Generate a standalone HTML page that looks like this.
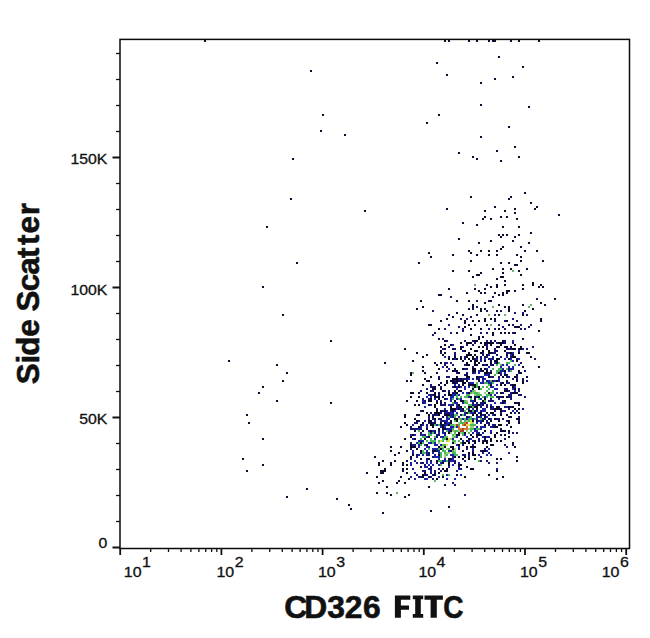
<!DOCTYPE html>
<html><head><meta charset="utf-8"><style>
html,body{margin:0;padding:0;background:#fff;}
svg{display:block;}
.t{font-family:"Liberation Sans",sans-serif;font-size:14px;fill:#111;stroke:#111;stroke-width:0.3px;}
.b{font-family:"Liberation Sans",sans-serif;font-size:30.5px;font-weight:bold;fill:#111;stroke:#111;stroke-width:0.6px;}
</style></head><body>
<svg width="650" height="638" viewBox="0 0 650 638">
<rect width="650" height="638" fill="#fff"/>
<path fill="#0c0c30" d="M204 40h2v2h-2zM444 40h2v2h-2zM448 40h2v2h-2zM468 40h2v2h-2zM476 40h2v2h-2zM488 40h2v2h-2zM492 40h2v2h-2zM494 40h2v2h-2zM510 40h2v2h-2zM518 40h2v2h-2zM538 40h2v2h-2zM498 56h2v2h-2zM436 62h2v2h-2zM522 66h2v2h-2zM310 70h2v2h-2zM446 74h2v2h-2zM512 76h2v2h-2zM494 78h2v2h-2zM480 82h2v2h-2zM480 104h2v2h-2zM528 106h2v2h-2zM322 114h2v2h-2zM438 114h2v2h-2zM426 122h2v2h-2zM508 126h2v2h-2zM320 130h2v2h-2zM344 134h2v2h-2zM480 136h2v2h-2zM514 146h2v2h-2zM496 150h2v2h-2zM458 152h2v2h-2zM472 156h2v2h-2zM518 156h2v2h-2zM292 158h2v2h-2zM476 158h2v2h-2zM500 160h2v2h-2zM524 192h2v2h-2zM470 196h2v2h-2zM510 196h2v2h-2zM290 198h2v2h-2zM508 198h2v2h-2zM530 202h2v2h-2zM494 206h2v2h-2zM536 206h2v2h-2zM446 208h2v2h-2zM514 208h2v2h-2zM534 208h2v2h-2zM364 210h2v2h-2zM484 210h2v2h-2zM504 210h2v2h-2zM514 212h2v2h-2zM558 214h2v2h-2zM484 216h2v2h-2zM500 216h2v2h-2zM506 216h2v2h-2zM482 218h2v2h-2zM490 218h2v2h-2zM516 218h2v2h-2zM462 222h2v2h-2zM476 224h2v2h-2zM266 226h2v2h-2zM502 226h2v2h-2zM518 226h2v2h-2zM530 232h2v2h-2zM498 234h2v2h-2zM502 234h2v2h-2zM506 234h2v2h-2zM518 234h2v2h-2zM500 236h2v2h-2zM514 236h2v2h-2zM458 238h2v2h-2zM490 240h2v2h-2zM512 240h2v2h-2zM478 242h2v2h-2zM528 242h2v2h-2zM502 246h2v2h-2zM520 246h2v2h-2zM500 248h2v2h-2zM468 250h2v2h-2zM480 250h2v2h-2zM488 250h2v2h-2zM496 250h2v2h-2zM524 250h2v2h-2zM536 250h2v2h-2zM428 252h2v2h-2zM470 252h2v2h-2zM452 254h2v2h-2zM476 254h2v2h-2zM488 254h2v2h-2zM496 254h2v2h-2zM516 254h2v2h-2zM430 256h2v2h-2zM520 256h2v2h-2zM470 260h2v2h-2zM520 260h2v2h-2zM542 260h2v2h-2zM296 262h2v2h-2zM418 262h2v2h-2zM500 262h2v2h-2zM508 262h2v2h-2zM514 264h2v2h-2zM516 264h2v2h-2zM492 268h2v2h-2zM502 268h2v2h-2zM510 268h2v2h-2zM526 268h2v2h-2zM452 270h2v2h-2zM468 270h2v2h-2zM518 270h2v2h-2zM480 272h2v2h-2zM502 272h2v2h-2zM476 274h2v2h-2zM478 274h2v2h-2zM520 274h2v2h-2zM472 276h2v2h-2zM500 276h2v2h-2zM502 276h2v2h-2zM496 278h2v2h-2zM504 280h2v2h-2zM532 282h2v2h-2zM486 284h2v2h-2zM496 284h2v2h-2zM504 284h2v2h-2zM522 284h2v2h-2zM532 284h2v2h-2zM540 284h2v2h-2zM262 286h2v2h-2zM490 286h2v2h-2zM496 286h2v2h-2zM538 286h2v2h-2zM542 286h2v2h-2zM448 288h2v2h-2zM474 288h2v2h-2zM484 288h2v2h-2zM522 288h2v2h-2zM478 290h2v2h-2zM506 290h2v2h-2zM508 290h2v2h-2zM514 290h2v2h-2zM466 292h2v2h-2zM480 292h2v2h-2zM484 292h2v2h-2zM494 292h2v2h-2zM502 292h2v2h-2zM506 292h2v2h-2zM438 294h2v2h-2zM440 294h2v2h-2zM498 294h2v2h-2zM502 294h2v2h-2zM554 298h2v2h-2zM420 300h2v2h-2zM456 300h2v2h-2zM468 300h2v2h-2zM490 300h2v2h-2zM484 302h2v2h-2zM540 302h2v2h-2zM472 304h2v2h-2zM498 304h2v2h-2zM522 304h2v2h-2zM544 304h2v2h-2zM422 306h2v2h-2zM472 306h2v2h-2zM504 306h2v2h-2zM508 306h2v2h-2zM416 308h2v2h-2zM468 308h2v2h-2zM480 308h2v2h-2zM484 308h2v2h-2zM508 308h2v2h-2zM532 308h2v2h-2zM480 310h2v2h-2zM496 310h2v2h-2zM508 310h2v2h-2zM524 310h2v2h-2zM456 312h2v2h-2zM282 314h2v2h-2zM462 314h2v2h-2zM476 314h2v2h-2zM498 314h2v2h-2zM522 314h2v2h-2zM452 316h2v2h-2zM446 318h2v2h-2zM484 318h2v2h-2zM490 318h2v2h-2zM494 318h2v2h-2zM540 318h2v2h-2zM440 320h2v2h-2zM464 320h2v2h-2zM472 320h2v2h-2zM478 320h2v2h-2zM484 320h2v2h-2zM506 320h2v2h-2zM540 320h2v2h-2zM464 322h2v2h-2zM428 324h2v2h-2zM430 324h2v2h-2zM468 324h2v2h-2zM474 324h2v2h-2zM486 324h2v2h-2zM508 324h2v2h-2zM464 326h2v2h-2zM514 326h2v2h-2zM516 326h2v2h-2zM518 326h2v2h-2zM438 328h2v2h-2zM470 328h2v2h-2zM480 328h2v2h-2zM498 328h2v2h-2zM538 330h2v2h-2zM434 332h2v2h-2zM456 332h2v2h-2zM492 332h2v2h-2zM500 332h2v2h-2zM504 332h2v2h-2zM508 332h2v2h-2zM514 332h2v2h-2zM470 334h2v2h-2zM492 334h2v2h-2zM478 336h2v2h-2zM482 336h2v2h-2zM438 338h2v2h-2zM478 338h2v2h-2zM522 338h2v2h-2zM330 340h2v2h-2zM520 346h2v2h-2zM404 348h2v2h-2zM520 348h2v2h-2zM416 352h2v2h-2zM526 352h2v2h-2zM528 352h2v2h-2zM426 354h2v2h-2zM422 356h2v2h-2zM530 356h2v2h-2zM228 360h2v2h-2zM412 360h2v2h-2zM384 362h2v2h-2zM434 362h2v2h-2zM276 364h2v2h-2zM436 364h2v2h-2zM422 366h2v2h-2zM522 366h2v2h-2zM538 366h2v2h-2zM438 368h2v2h-2zM422 370h2v2h-2zM286 372h2v2h-2zM410 372h2v2h-2zM424 372h2v2h-2zM436 372h2v2h-2zM520 372h2v2h-2zM410 374h2v2h-2zM430 376h2v2h-2zM526 376h2v2h-2zM424 378h2v2h-2zM438 378h2v2h-2zM282 380h2v2h-2zM406 380h2v2h-2zM410 380h2v2h-2zM522 380h2v2h-2zM522 382h2v2h-2zM262 386h2v2h-2zM258 392h2v2h-2zM410 392h2v2h-2zM412 392h2v2h-2zM418 392h2v2h-2zM410 396h2v2h-2zM418 396h2v2h-2zM276 400h2v2h-2zM406 400h2v2h-2zM416 400h2v2h-2zM330 402h2v2h-2zM414 404h2v2h-2zM418 404h2v2h-2zM246 414h2v2h-2zM404 414h2v2h-2zM416 414h2v2h-2zM418 414h2v2h-2zM404 416h2v2h-2zM414 418h2v2h-2zM248 422h2v2h-2zM404 422h2v2h-2zM406 424h2v2h-2zM400 426h2v2h-2zM262 438h2v2h-2zM404 438h2v2h-2zM390 446h2v2h-2zM400 446h2v2h-2zM390 450h2v2h-2zM406 450h2v2h-2zM398 452h2v2h-2zM394 454h2v2h-2zM374 456h2v2h-2zM242 458h2v2h-2zM382 460h2v2h-2zM394 460h2v2h-2zM406 460h2v2h-2zM378 462h2v2h-2zM390 462h2v2h-2zM402 462h2v2h-2zM262 464h2v2h-2zM378 464h2v2h-2zM390 464h2v2h-2zM402 464h2v2h-2zM406 464h2v2h-2zM384 468h2v2h-2zM402 468h2v2h-2zM406 468h2v2h-2zM246 470h2v2h-2zM380 470h2v2h-2zM382 470h2v2h-2zM384 470h2v2h-2zM402 470h2v2h-2zM366 472h2v2h-2zM380 472h2v2h-2zM382 472h2v2h-2zM406 472h2v2h-2zM376 476h2v2h-2zM400 476h2v2h-2zM408 478h2v2h-2zM382 480h2v2h-2zM398 480h2v2h-2zM378 482h2v2h-2zM396 482h2v2h-2zM404 482h2v2h-2zM444 484h2v2h-2zM386 486h2v2h-2zM428 486h2v2h-2zM306 488h2v2h-2zM376 492h2v2h-2zM386 492h2v2h-2zM390 494h2v2h-2zM408 494h2v2h-2zM286 496h2v2h-2zM404 496h2v2h-2zM336 498h2v2h-2zM348 504h2v2h-2zM448 506h2v2h-2zM350 508h2v2h-2zM430 510h2v2h-2zM382 512h2v2h-2z"/>
<path fill="#161672" d="M450 296h2v2h-2zM492 296h2v2h-2zM536 298h2v2h-2zM476 300h2v2h-2zM488 300h2v2h-2zM476 306h2v2h-2zM472 308h2v2h-2zM432 310h2v2h-2zM486 310h2v2h-2zM500 310h2v2h-2zM514 312h2v2h-2zM522 312h2v2h-2zM448 314h2v2h-2zM494 314h2v2h-2zM526 314h2v2h-2zM470 316h2v2h-2zM460 318h2v2h-2zM466 318h2v2h-2zM512 318h2v2h-2zM494 320h2v2h-2zM504 320h2v2h-2zM516 320h2v2h-2zM448 324h2v2h-2zM498 324h2v2h-2zM512 324h2v2h-2zM520 324h2v2h-2zM530 324h2v2h-2zM458 326h2v2h-2zM502 326h2v2h-2zM528 326h2v2h-2zM444 328h2v2h-2zM462 328h2v2h-2zM488 328h2v2h-2zM494 328h2v2h-2zM504 328h2v2h-2zM520 328h2v2h-2zM524 328h2v2h-2zM462 330h2v2h-2zM450 332h2v2h-2zM480 332h2v2h-2zM486 332h2v2h-2zM512 332h2v2h-2zM432 334h2v2h-2zM442 338h2v2h-2zM446 340h2v2h-2zM464 340h2v2h-2zM472 340h2v2h-2zM486 340h2v2h-2zM490 340h2v2h-2zM494 340h2v2h-2zM504 340h2v2h-2zM474 342h2v2h-2zM496 342h2v2h-2zM504 342h2v2h-2zM512 342h2v2h-2zM466 344h2v2h-2zM472 344h2v2h-2zM486 344h2v2h-2zM448 346h2v2h-2zM462 346h2v2h-2zM486 346h2v2h-2zM532 346h2v2h-2zM442 348h2v2h-2zM444 348h2v2h-2zM454 348h2v2h-2zM494 348h2v2h-2zM506 348h2v2h-2zM508 348h2v2h-2zM510 348h2v2h-2zM522 348h2v2h-2zM526 348h2v2h-2zM462 350h2v2h-2zM494 350h2v2h-2zM496 350h2v2h-2zM440 352h2v2h-2zM454 352h2v2h-2zM482 352h2v2h-2zM492 352h2v2h-2zM494 352h2v2h-2zM506 352h2v2h-2zM508 352h2v2h-2zM454 354h2v2h-2zM482 354h2v2h-2zM496 354h2v2h-2zM448 356h2v2h-2zM460 356h2v2h-2zM464 356h2v2h-2zM480 356h2v2h-2zM484 356h2v2h-2zM486 356h2v2h-2zM500 356h2v2h-2zM510 356h2v2h-2zM464 358h2v2h-2zM474 358h2v2h-2zM480 358h2v2h-2zM488 358h2v2h-2zM492 358h2v2h-2zM516 358h2v2h-2zM534 358h2v2h-2zM444 362h2v2h-2zM520 362h2v2h-2zM444 364h2v2h-2zM452 364h2v2h-2zM464 364h2v2h-2zM490 364h2v2h-2zM472 366h2v2h-2zM464 368h2v2h-2zM466 368h2v2h-2zM508 368h2v2h-2zM446 370h2v2h-2zM454 370h2v2h-2zM480 370h2v2h-2zM524 370h2v2h-2zM456 372h2v2h-2zM466 372h2v2h-2zM472 372h2v2h-2zM488 372h2v2h-2zM518 372h2v2h-2zM464 374h2v2h-2zM488 374h2v2h-2zM500 374h2v2h-2zM506 374h2v2h-2zM438 376h2v2h-2zM446 376h2v2h-2zM448 376h2v2h-2zM478 376h2v2h-2zM480 376h2v2h-2zM490 376h2v2h-2zM492 376h2v2h-2zM498 376h2v2h-2zM506 376h2v2h-2zM508 376h2v2h-2zM516 376h2v2h-2zM458 378h2v2h-2zM462 378h2v2h-2zM464 378h2v2h-2zM466 378h2v2h-2zM476 378h2v2h-2zM478 378h2v2h-2zM482 378h2v2h-2zM512 378h2v2h-2zM516 378h2v2h-2zM522 378h2v2h-2zM426 380h2v2h-2zM454 380h2v2h-2zM458 380h2v2h-2zM486 380h2v2h-2zM492 380h2v2h-2zM526 380h2v2h-2zM456 382h2v2h-2zM468 382h2v2h-2zM500 382h2v2h-2zM506 382h2v2h-2zM508 382h2v2h-2zM430 384h2v2h-2zM458 384h2v2h-2zM510 384h2v2h-2zM430 386h2v2h-2zM432 386h2v2h-2zM440 386h2v2h-2zM452 386h2v2h-2zM426 388h2v2h-2zM504 388h2v2h-2zM506 388h2v2h-2zM518 388h2v2h-2zM420 390h2v2h-2zM430 390h2v2h-2zM432 390h2v2h-2zM444 390h2v2h-2zM448 390h2v2h-2zM508 390h2v2h-2zM518 390h2v2h-2zM438 392h2v2h-2zM452 392h2v2h-2zM454 392h2v2h-2zM502 392h2v2h-2zM510 392h2v2h-2zM430 394h2v2h-2zM432 394h2v2h-2zM438 394h2v2h-2zM444 394h2v2h-2zM508 394h2v2h-2zM510 394h2v2h-2zM518 394h2v2h-2zM520 394h2v2h-2zM436 396h2v2h-2zM442 396h2v2h-2zM496 396h2v2h-2zM500 396h2v2h-2zM508 396h2v2h-2zM510 396h2v2h-2zM524 396h2v2h-2zM422 398h2v2h-2zM428 398h2v2h-2zM490 398h2v2h-2zM498 398h2v2h-2zM510 398h2v2h-2zM424 400h2v2h-2zM436 400h2v2h-2zM440 400h2v2h-2zM488 400h2v2h-2zM490 400h2v2h-2zM492 400h2v2h-2zM502 400h2v2h-2zM422 402h2v2h-2zM444 402h2v2h-2zM472 402h2v2h-2zM480 402h2v2h-2zM482 402h2v2h-2zM516 402h2v2h-2zM440 404h2v2h-2zM442 404h2v2h-2zM444 404h2v2h-2zM452 404h2v2h-2zM472 404h2v2h-2zM476 404h2v2h-2zM482 404h2v2h-2zM486 404h2v2h-2zM456 406h2v2h-2zM458 406h2v2h-2zM480 406h2v2h-2zM486 406h2v2h-2zM504 406h2v2h-2zM510 406h2v2h-2zM436 408h2v2h-2zM490 408h2v2h-2zM492 408h2v2h-2zM508 408h2v2h-2zM522 408h2v2h-2zM420 410h2v2h-2zM442 410h2v2h-2zM450 410h2v2h-2zM460 410h2v2h-2zM462 410h2v2h-2zM480 410h2v2h-2zM494 410h2v2h-2zM504 410h2v2h-2zM516 410h2v2h-2zM430 412h2v2h-2zM440 412h2v2h-2zM444 412h2v2h-2zM446 412h2v2h-2zM448 412h2v2h-2zM500 412h2v2h-2zM514 412h2v2h-2zM432 414h2v2h-2zM434 414h2v2h-2zM436 414h2v2h-2zM452 414h2v2h-2zM460 414h2v2h-2zM428 416h2v2h-2zM452 416h2v2h-2zM478 416h2v2h-2zM508 416h2v2h-2zM518 416h2v2h-2zM428 418h2v2h-2zM432 418h2v2h-2zM438 418h2v2h-2zM440 418h2v2h-2zM482 418h2v2h-2zM484 418h2v2h-2zM496 418h2v2h-2zM498 418h2v2h-2zM502 418h2v2h-2zM418 420h2v2h-2zM442 420h2v2h-2zM486 420h2v2h-2zM506 420h2v2h-2zM518 420h2v2h-2zM414 422h2v2h-2zM416 422h2v2h-2zM428 422h2v2h-2zM432 422h2v2h-2zM480 422h2v2h-2zM486 422h2v2h-2zM488 422h2v2h-2zM426 424h2v2h-2zM440 424h2v2h-2zM488 424h2v2h-2zM492 424h2v2h-2zM494 424h2v2h-2zM506 424h2v2h-2zM410 426h2v2h-2zM484 426h2v2h-2zM492 426h2v2h-2zM410 428h2v2h-2zM412 428h2v2h-2zM414 428h2v2h-2zM416 428h2v2h-2zM420 428h2v2h-2zM500 428h2v2h-2zM434 430h2v2h-2zM438 430h2v2h-2zM420 432h2v2h-2zM434 432h2v2h-2zM444 432h2v2h-2zM478 432h2v2h-2zM490 432h2v2h-2zM508 432h2v2h-2zM512 432h2v2h-2zM516 432h2v2h-2zM424 434h2v2h-2zM436 434h2v2h-2zM438 434h2v2h-2zM480 434h2v2h-2zM500 434h2v2h-2zM436 436h2v2h-2zM476 436h2v2h-2zM488 436h2v2h-2zM478 438h2v2h-2zM484 438h2v2h-2zM504 438h2v2h-2zM472 440h2v2h-2zM478 440h2v2h-2zM482 440h2v2h-2zM410 442h2v2h-2zM414 444h2v2h-2zM462 444h2v2h-2zM472 444h2v2h-2zM504 444h2v2h-2zM512 444h2v2h-2zM506 446h2v2h-2zM410 448h2v2h-2zM458 448h2v2h-2zM466 448h2v2h-2zM484 448h2v2h-2zM436 450h2v2h-2zM472 450h2v2h-2zM480 450h2v2h-2zM420 452h2v2h-2zM428 452h2v2h-2zM482 452h2v2h-2zM488 452h2v2h-2zM416 454h2v2h-2zM426 454h2v2h-2zM428 454h2v2h-2zM462 454h2v2h-2zM464 454h2v2h-2zM468 454h2v2h-2zM416 456h2v2h-2zM432 456h2v2h-2zM468 456h2v2h-2zM480 456h2v2h-2zM410 458h2v2h-2zM426 458h2v2h-2zM430 460h2v2h-2zM448 460h2v2h-2zM454 460h2v2h-2zM464 460h2v2h-2zM480 460h2v2h-2zM486 460h2v2h-2zM416 462h2v2h-2zM420 462h2v2h-2zM422 462h2v2h-2zM436 462h2v2h-2zM454 462h2v2h-2zM488 462h2v2h-2zM496 462h2v2h-2zM424 464h2v2h-2zM430 466h2v2h-2zM458 466h2v2h-2zM428 468h2v2h-2zM430 468h2v2h-2zM438 468h2v2h-2zM460 468h2v2h-2zM422 470h2v2h-2zM424 470h2v2h-2zM434 470h2v2h-2zM440 470h2v2h-2zM456 470h2v2h-2zM430 472h2v2h-2zM434 472h2v2h-2zM416 474h2v2h-2zM424 474h2v2h-2zM426 474h2v2h-2zM432 474h2v2h-2zM418 476h2v2h-2zM420 476h2v2h-2zM430 476h2v2h-2zM432 478h2v2h-2zM452 482h2v2h-2zM454 484h2v2h-2zM464 494h2v2h-2z"/>
<path fill="#70b070" d="M512 270h2v2h-2zM474 284h2v2h-2zM530 304h2v2h-2zM492 306h2v2h-2zM528 306h2v2h-2zM488 314h2v2h-2zM504 314h2v2h-2zM490 324h2v2h-2zM412 372h2v2h-2zM434 480h2v2h-2zM396 492h2v2h-2z"/>
<path fill="#1c22a8" d="M512 340h2v2h-2zM452 344h2v2h-2zM518 350h2v2h-2zM512 352h2v2h-2zM488 354h2v2h-2zM510 354h2v2h-2zM444 356h2v2h-2zM492 356h2v2h-2zM506 356h2v2h-2zM454 358h2v2h-2zM476 358h2v2h-2zM484 358h2v2h-2zM490 358h2v2h-2zM504 358h2v2h-2zM510 358h2v2h-2zM518 358h2v2h-2zM480 360h2v2h-2zM512 360h2v2h-2zM446 362h2v2h-2zM450 362h2v2h-2zM494 362h2v2h-2zM484 364h2v2h-2zM502 364h2v2h-2zM506 364h2v2h-2zM518 364h2v2h-2zM442 366h2v2h-2zM488 366h2v2h-2zM500 366h2v2h-2zM508 366h2v2h-2zM512 366h2v2h-2zM448 368h2v2h-2zM486 368h2v2h-2zM502 368h2v2h-2zM510 368h2v2h-2zM512 368h2v2h-2zM478 370h2v2h-2zM490 370h2v2h-2zM500 370h2v2h-2zM502 370h2v2h-2zM508 370h2v2h-2zM474 372h2v2h-2zM478 372h2v2h-2zM500 372h2v2h-2zM504 372h2v2h-2zM484 374h2v2h-2zM486 374h2v2h-2zM482 376h2v2h-2zM468 378h2v2h-2zM472 378h2v2h-2zM484 378h2v2h-2zM498 378h2v2h-2zM482 380h2v2h-2zM488 380h2v2h-2zM494 380h2v2h-2zM498 380h2v2h-2zM470 382h2v2h-2zM472 382h2v2h-2zM480 382h2v2h-2zM482 382h2v2h-2zM488 382h2v2h-2zM490 382h2v2h-2zM454 384h2v2h-2zM496 384h2v2h-2zM456 386h2v2h-2zM460 386h2v2h-2zM464 386h2v2h-2zM468 386h2v2h-2zM490 386h2v2h-2zM492 386h2v2h-2zM514 386h2v2h-2zM456 388h2v2h-2zM464 388h2v2h-2zM494 388h2v2h-2zM496 388h2v2h-2zM512 388h2v2h-2zM470 390h2v2h-2zM514 390h2v2h-2zM462 392h2v2h-2zM466 392h2v2h-2zM496 392h2v2h-2zM428 394h2v2h-2zM452 394h2v2h-2zM454 394h2v2h-2zM458 394h2v2h-2zM490 394h2v2h-2zM494 394h2v2h-2zM426 396h2v2h-2zM430 396h2v2h-2zM450 396h2v2h-2zM452 396h2v2h-2zM468 396h2v2h-2zM476 396h2v2h-2zM484 396h2v2h-2zM434 398h2v2h-2zM446 398h2v2h-2zM450 398h2v2h-2zM456 398h2v2h-2zM460 398h2v2h-2zM480 398h2v2h-2zM422 400h2v2h-2zM450 400h2v2h-2zM470 400h2v2h-2zM472 400h2v2h-2zM424 402h2v2h-2zM454 402h2v2h-2zM456 402h2v2h-2zM462 402h2v2h-2zM476 402h2v2h-2zM494 402h2v2h-2zM500 402h2v2h-2zM504 402h2v2h-2zM430 404h2v2h-2zM448 404h2v2h-2zM450 404h2v2h-2zM456 404h2v2h-2zM474 404h2v2h-2zM480 404h2v2h-2zM490 404h2v2h-2zM424 406h2v2h-2zM492 406h2v2h-2zM506 406h2v2h-2zM444 408h2v2h-2zM456 408h2v2h-2zM460 408h2v2h-2zM468 408h2v2h-2zM472 408h2v2h-2zM482 408h2v2h-2zM484 408h2v2h-2zM446 410h2v2h-2zM454 410h2v2h-2zM476 410h2v2h-2zM482 410h2v2h-2zM484 410h2v2h-2zM502 410h2v2h-2zM512 410h2v2h-2zM450 412h2v2h-2zM452 412h2v2h-2zM456 412h2v2h-2zM464 412h2v2h-2zM470 412h2v2h-2zM472 412h2v2h-2zM478 412h2v2h-2zM450 414h2v2h-2zM464 414h2v2h-2zM482 414h2v2h-2zM488 414h2v2h-2zM492 414h2v2h-2zM446 416h2v2h-2zM450 416h2v2h-2zM458 416h2v2h-2zM468 416h2v2h-2zM476 416h2v2h-2zM480 416h2v2h-2zM486 416h2v2h-2zM446 418h2v2h-2zM448 418h2v2h-2zM462 418h2v2h-2zM466 418h2v2h-2zM472 418h2v2h-2zM476 418h2v2h-2zM490 418h2v2h-2zM424 420h2v2h-2zM434 420h2v2h-2zM440 420h2v2h-2zM444 420h2v2h-2zM446 420h2v2h-2zM478 420h2v2h-2zM480 420h2v2h-2zM446 422h2v2h-2zM448 422h2v2h-2zM476 422h2v2h-2zM412 424h2v2h-2zM422 424h2v2h-2zM436 424h2v2h-2zM444 424h2v2h-2zM446 424h2v2h-2zM420 426h2v2h-2zM426 426h2v2h-2zM440 426h2v2h-2zM444 426h2v2h-2zM450 426h2v2h-2zM452 426h2v2h-2zM456 426h2v2h-2zM476 426h2v2h-2zM480 426h2v2h-2zM482 426h2v2h-2zM490 426h2v2h-2zM418 428h2v2h-2zM446 428h2v2h-2zM448 428h2v2h-2zM450 428h2v2h-2zM474 428h2v2h-2zM480 428h2v2h-2zM428 430h2v2h-2zM432 430h2v2h-2zM442 430h2v2h-2zM448 430h2v2h-2zM474 430h2v2h-2zM476 430h2v2h-2zM490 430h2v2h-2zM430 432h2v2h-2zM438 432h2v2h-2zM442 432h2v2h-2zM472 432h2v2h-2zM476 432h2v2h-2zM482 432h2v2h-2zM410 434h2v2h-2zM414 434h2v2h-2zM420 434h2v2h-2zM422 434h2v2h-2zM444 434h2v2h-2zM464 434h2v2h-2zM426 436h2v2h-2zM440 436h2v2h-2zM442 436h2v2h-2zM456 436h2v2h-2zM466 436h2v2h-2zM482 436h2v2h-2zM486 436h2v2h-2zM412 438h2v2h-2zM434 438h2v2h-2zM452 438h2v2h-2zM470 438h2v2h-2zM418 440h2v2h-2zM420 440h2v2h-2zM422 440h2v2h-2zM462 440h2v2h-2zM468 440h2v2h-2zM416 442h2v2h-2zM428 442h2v2h-2zM430 442h2v2h-2zM434 442h2v2h-2zM412 444h2v2h-2zM418 444h2v2h-2zM424 444h2v2h-2zM434 444h2v2h-2zM436 444h2v2h-2zM440 444h2v2h-2zM456 444h2v2h-2zM418 446h2v2h-2zM426 446h2v2h-2zM428 446h2v2h-2zM458 446h2v2h-2zM424 448h2v2h-2zM432 448h2v2h-2zM434 448h2v2h-2zM436 448h2v2h-2zM472 448h2v2h-2zM488 448h2v2h-2zM412 450h2v2h-2zM426 450h2v2h-2zM438 450h2v2h-2zM448 450h2v2h-2zM486 450h2v2h-2zM412 452h2v2h-2zM426 452h2v2h-2zM432 452h2v2h-2zM438 452h2v2h-2zM508 452h2v2h-2zM418 454h2v2h-2zM422 454h2v2h-2zM434 454h2v2h-2zM450 454h2v2h-2zM452 454h2v2h-2zM478 454h2v2h-2zM486 454h2v2h-2zM490 454h2v2h-2zM434 456h2v2h-2zM436 456h2v2h-2zM438 456h2v2h-2zM452 456h2v2h-2zM438 458h2v2h-2zM444 458h2v2h-2zM452 458h2v2h-2zM414 460h2v2h-2zM426 460h2v2h-2zM442 460h2v2h-2zM444 460h2v2h-2zM450 460h2v2h-2zM452 460h2v2h-2zM410 462h2v2h-2zM426 462h2v2h-2zM430 462h2v2h-2zM440 462h2v2h-2zM458 462h2v2h-2zM410 464h2v2h-2zM428 464h2v2h-2zM432 464h2v2h-2zM438 464h2v2h-2zM452 464h2v2h-2zM424 466h2v2h-2zM426 466h2v2h-2zM448 466h2v2h-2zM412 468h2v2h-2zM458 468h2v2h-2zM496 468h2v2h-2zM430 470h2v2h-2zM414 472h2v2h-2zM446 474h2v2h-2zM460 474h2v2h-2zM410 476h2v2h-2zM438 476h2v2h-2zM414 478h2v2h-2zM424 478h2v2h-2zM426 478h2v2h-2zM446 478h2v2h-2zM454 478h2v2h-2z"/>
<path fill="#0a0a28" d="M444 340h2v2h-2zM474 340h2v2h-2zM476 340h2v2h-2zM502 340h2v2h-2zM460 342h2v2h-2zM466 342h2v2h-2zM468 342h2v2h-2zM470 342h2v2h-2zM480 342h2v2h-2zM484 342h2v2h-2zM486 342h2v2h-2zM488 342h2v2h-2zM490 342h2v2h-2zM492 342h2v2h-2zM498 342h2v2h-2zM500 342h2v2h-2zM502 342h2v2h-2zM444 344h2v2h-2zM450 344h2v2h-2zM484 344h2v2h-2zM490 344h2v2h-2zM500 344h2v2h-2zM514 344h2v2h-2zM440 346h2v2h-2zM460 346h2v2h-2zM478 346h2v2h-2zM482 346h2v2h-2zM496 346h2v2h-2zM498 346h2v2h-2zM504 346h2v2h-2zM506 346h2v2h-2zM510 346h2v2h-2zM452 348h2v2h-2zM460 348h2v2h-2zM470 348h2v2h-2zM486 348h2v2h-2zM512 348h2v2h-2zM514 348h2v2h-2zM518 348h2v2h-2zM440 350h2v2h-2zM464 350h2v2h-2zM474 350h2v2h-2zM476 350h2v2h-2zM482 350h2v2h-2zM488 350h2v2h-2zM504 350h2v2h-2zM444 352h2v2h-2zM468 352h2v2h-2zM480 352h2v2h-2zM488 352h2v2h-2zM490 352h2v2h-2zM510 352h2v2h-2zM518 352h2v2h-2zM442 354h2v2h-2zM466 354h2v2h-2zM468 354h2v2h-2zM470 354h2v2h-2zM474 354h2v2h-2zM486 354h2v2h-2zM506 354h2v2h-2zM512 354h2v2h-2zM454 356h2v2h-2zM466 356h2v2h-2zM472 356h2v2h-2zM476 356h2v2h-2zM512 356h2v2h-2zM514 356h2v2h-2zM448 358h2v2h-2zM452 358h2v2h-2zM456 358h2v2h-2zM460 358h2v2h-2zM468 358h2v2h-2zM472 358h2v2h-2zM496 358h2v2h-2zM498 358h2v2h-2zM508 358h2v2h-2zM462 360h2v2h-2zM470 360h2v2h-2zM474 360h2v2h-2zM476 360h2v2h-2zM484 360h2v2h-2zM490 360h2v2h-2zM494 360h2v2h-2zM496 360h2v2h-2zM516 360h2v2h-2zM440 362h2v2h-2zM466 362h2v2h-2zM474 362h2v2h-2zM478 362h2v2h-2zM490 362h2v2h-2zM496 362h2v2h-2zM466 364h2v2h-2zM468 364h2v2h-2zM474 364h2v2h-2zM476 364h2v2h-2zM482 364h2v2h-2zM486 364h2v2h-2zM492 364h2v2h-2zM446 366h2v2h-2zM454 368h2v2h-2zM462 368h2v2h-2zM472 368h2v2h-2zM474 368h2v2h-2zM480 368h2v2h-2zM484 368h2v2h-2zM452 370h2v2h-2zM456 370h2v2h-2zM472 370h2v2h-2zM474 370h2v2h-2zM482 370h2v2h-2zM486 370h2v2h-2zM504 370h2v2h-2zM518 370h2v2h-2zM458 372h2v2h-2zM484 372h2v2h-2zM486 372h2v2h-2zM490 372h2v2h-2zM498 372h2v2h-2zM466 374h2v2h-2zM504 374h2v2h-2zM516 374h2v2h-2zM456 376h2v2h-2zM466 376h2v2h-2zM468 376h2v2h-2zM476 376h2v2h-2zM488 376h2v2h-2zM502 376h2v2h-2zM514 376h2v2h-2zM452 378h2v2h-2zM454 378h2v2h-2zM456 378h2v2h-2zM460 378h2v2h-2zM428 380h2v2h-2zM446 380h2v2h-2zM450 380h2v2h-2zM452 380h2v2h-2zM456 380h2v2h-2zM460 380h2v2h-2zM462 380h2v2h-2zM466 380h2v2h-2zM478 380h2v2h-2zM496 380h2v2h-2zM506 380h2v2h-2zM516 380h2v2h-2zM440 382h2v2h-2zM446 382h2v2h-2zM452 382h2v2h-2zM454 382h2v2h-2zM462 382h2v2h-2zM464 382h2v2h-2zM502 382h2v2h-2zM422 384h2v2h-2zM438 384h2v2h-2zM444 384h2v2h-2zM462 384h2v2h-2zM468 384h2v2h-2zM470 384h2v2h-2zM472 384h2v2h-2zM474 384h2v2h-2zM490 384h2v2h-2zM500 384h2v2h-2zM504 384h2v2h-2zM512 384h2v2h-2zM514 384h2v2h-2zM434 386h2v2h-2zM454 386h2v2h-2zM458 386h2v2h-2zM474 386h2v2h-2zM478 386h2v2h-2zM512 386h2v2h-2zM432 388h2v2h-2zM434 388h2v2h-2zM440 388h2v2h-2zM472 388h2v2h-2zM478 388h2v2h-2zM514 388h2v2h-2zM442 390h2v2h-2zM454 390h2v2h-2zM458 390h2v2h-2zM460 390h2v2h-2zM504 390h2v2h-2zM506 390h2v2h-2zM426 392h2v2h-2zM434 392h2v2h-2zM448 392h2v2h-2zM456 392h2v2h-2zM468 392h2v2h-2zM488 392h2v2h-2zM500 392h2v2h-2zM512 392h2v2h-2zM514 392h2v2h-2zM516 392h2v2h-2zM434 394h2v2h-2zM448 394h2v2h-2zM450 394h2v2h-2zM434 396h2v2h-2zM438 396h2v2h-2zM470 396h2v2h-2zM474 396h2v2h-2zM478 396h2v2h-2zM498 396h2v2h-2zM502 396h2v2h-2zM506 396h2v2h-2zM430 398h2v2h-2zM438 398h2v2h-2zM444 398h2v2h-2zM474 398h2v2h-2zM484 398h2v2h-2zM428 400h2v2h-2zM430 400h2v2h-2zM454 400h2v2h-2zM460 400h2v2h-2zM462 400h2v2h-2zM474 400h2v2h-2zM482 400h2v2h-2zM504 400h2v2h-2zM436 402h2v2h-2zM440 402h2v2h-2zM484 402h2v2h-2zM502 402h2v2h-2zM514 402h2v2h-2zM518 402h2v2h-2zM428 404h2v2h-2zM434 404h2v2h-2zM458 404h2v2h-2zM478 404h2v2h-2zM518 404h2v2h-2zM434 406h2v2h-2zM450 406h2v2h-2zM460 406h2v2h-2zM468 406h2v2h-2zM470 406h2v2h-2zM474 406h2v2h-2zM476 406h2v2h-2zM490 406h2v2h-2zM496 406h2v2h-2zM498 406h2v2h-2zM508 406h2v2h-2zM512 406h2v2h-2zM450 408h2v2h-2zM452 408h2v2h-2zM454 408h2v2h-2zM458 408h2v2h-2zM462 408h2v2h-2zM476 408h2v2h-2zM494 408h2v2h-2zM496 408h2v2h-2zM498 408h2v2h-2zM500 408h2v2h-2zM514 408h2v2h-2zM518 408h2v2h-2zM422 410h2v2h-2zM436 410h2v2h-2zM440 410h2v2h-2zM444 410h2v2h-2zM452 410h2v2h-2zM468 410h2v2h-2zM470 410h2v2h-2zM474 410h2v2h-2zM500 410h2v2h-2zM426 412h2v2h-2zM434 412h2v2h-2zM436 412h2v2h-2zM438 412h2v2h-2zM466 412h2v2h-2zM474 412h2v2h-2zM480 412h2v2h-2zM486 412h2v2h-2zM490 412h2v2h-2zM492 412h2v2h-2zM510 412h2v2h-2zM518 412h2v2h-2zM428 414h2v2h-2zM438 414h2v2h-2zM444 414h2v2h-2zM446 414h2v2h-2zM448 414h2v2h-2zM472 414h2v2h-2zM476 414h2v2h-2zM480 414h2v2h-2zM484 414h2v2h-2zM494 414h2v2h-2zM500 414h2v2h-2zM506 414h2v2h-2zM432 416h2v2h-2zM442 416h2v2h-2zM466 416h2v2h-2zM484 416h2v2h-2zM510 416h2v2h-2zM434 418h2v2h-2zM454 418h2v2h-2zM456 418h2v2h-2zM488 418h2v2h-2zM494 418h2v2h-2zM516 418h2v2h-2zM518 418h2v2h-2zM416 420h2v2h-2zM428 420h2v2h-2zM430 420h2v2h-2zM450 420h2v2h-2zM456 420h2v2h-2zM472 420h2v2h-2zM476 420h2v2h-2zM482 420h2v2h-2zM490 420h2v2h-2zM498 420h2v2h-2zM508 420h2v2h-2zM422 422h2v2h-2zM430 422h2v2h-2zM434 422h2v2h-2zM440 422h2v2h-2zM444 422h2v2h-2zM450 422h2v2h-2zM508 422h2v2h-2zM518 422h2v2h-2zM420 424h2v2h-2zM430 424h2v2h-2zM432 424h2v2h-2zM442 424h2v2h-2zM448 424h2v2h-2zM484 424h2v2h-2zM498 424h2v2h-2zM500 424h2v2h-2zM418 426h2v2h-2zM432 426h2v2h-2zM442 426h2v2h-2zM494 426h2v2h-2zM496 426h2v2h-2zM510 426h2v2h-2zM426 428h2v2h-2zM438 428h2v2h-2zM442 428h2v2h-2zM444 428h2v2h-2zM414 430h2v2h-2zM422 430h2v2h-2zM430 430h2v2h-2zM450 430h2v2h-2zM484 430h2v2h-2zM500 430h2v2h-2zM502 430h2v2h-2zM504 430h2v2h-2zM508 430h2v2h-2zM448 432h2v2h-2zM458 432h2v2h-2zM464 432h2v2h-2zM496 432h2v2h-2zM412 434h2v2h-2zM456 434h2v2h-2zM458 434h2v2h-2zM470 434h2v2h-2zM476 434h2v2h-2zM478 434h2v2h-2zM494 434h2v2h-2zM504 434h2v2h-2zM410 436h2v2h-2zM428 436h2v2h-2zM472 436h2v2h-2zM484 436h2v2h-2zM494 436h2v2h-2zM508 436h2v2h-2zM414 438h2v2h-2zM424 438h2v2h-2zM446 438h2v2h-2zM460 438h2v2h-2zM468 438h2v2h-2zM490 438h2v2h-2zM466 440h2v2h-2zM474 440h2v2h-2zM484 440h2v2h-2zM486 440h2v2h-2zM490 440h2v2h-2zM496 440h2v2h-2zM500 440h2v2h-2zM420 442h2v2h-2zM452 442h2v2h-2zM462 442h2v2h-2zM464 442h2v2h-2zM468 442h2v2h-2zM474 442h2v2h-2zM482 442h2v2h-2zM486 442h2v2h-2zM512 442h2v2h-2zM410 444h2v2h-2zM426 444h2v2h-2zM458 444h2v2h-2zM490 444h2v2h-2zM492 444h2v2h-2zM410 446h2v2h-2zM412 446h2v2h-2zM414 446h2v2h-2zM438 446h2v2h-2zM444 446h2v2h-2zM450 446h2v2h-2zM452 446h2v2h-2zM466 446h2v2h-2zM470 446h2v2h-2zM472 446h2v2h-2zM474 446h2v2h-2zM486 446h2v2h-2zM514 446h2v2h-2zM416 448h2v2h-2zM440 448h2v2h-2zM452 448h2v2h-2zM420 450h2v2h-2zM432 450h2v2h-2zM434 450h2v2h-2zM450 450h2v2h-2zM462 450h2v2h-2zM482 450h2v2h-2zM484 450h2v2h-2zM468 452h2v2h-2zM472 452h2v2h-2zM412 454h2v2h-2zM438 454h2v2h-2zM472 454h2v2h-2zM474 454h2v2h-2zM410 456h2v2h-2zM454 456h2v2h-2zM458 456h2v2h-2zM464 456h2v2h-2zM516 456h2v2h-2zM420 458h2v2h-2zM428 458h2v2h-2zM448 458h2v2h-2zM450 458h2v2h-2zM462 458h2v2h-2zM468 458h2v2h-2zM474 458h2v2h-2zM496 458h2v2h-2zM500 458h2v2h-2zM436 460h2v2h-2zM516 460h2v2h-2zM442 462h2v2h-2zM448 462h2v2h-2zM448 464h2v2h-2zM458 464h2v2h-2zM460 464h2v2h-2zM420 466h2v2h-2zM466 466h2v2h-2zM442 468h2v2h-2zM446 468h2v2h-2zM470 468h2v2h-2zM472 468h2v2h-2zM444 470h2v2h-2zM446 470h2v2h-2zM496 470h2v2h-2zM424 472h2v2h-2zM438 472h2v2h-2zM422 474h2v2h-2zM434 474h2v2h-2zM456 474h2v2h-2zM488 474h2v2h-2zM422 476h2v2h-2zM428 476h2v2h-2zM442 476h2v2h-2zM464 476h2v2h-2zM502 476h2v2h-2zM436 478h2v2h-2zM496 478h2v2h-2z"/>
<path fill="#48b858" d="M510 360h2v2h-2zM498 362h2v2h-2zM506 362h2v2h-2zM508 362h2v2h-2zM496 364h2v2h-2zM500 364h2v2h-2zM514 364h2v2h-2zM492 368h2v2h-2zM498 368h2v2h-2zM500 368h2v2h-2zM506 368h2v2h-2zM496 370h2v2h-2zM498 370h2v2h-2zM510 370h2v2h-2zM496 372h2v2h-2zM494 374h2v2h-2zM490 380h2v2h-2zM476 382h2v2h-2zM484 382h2v2h-2zM486 382h2v2h-2zM492 382h2v2h-2zM476 384h2v2h-2zM488 384h2v2h-2zM472 386h2v2h-2zM476 386h2v2h-2zM482 386h2v2h-2zM486 386h2v2h-2zM480 388h2v2h-2zM488 388h2v2h-2zM472 390h2v2h-2zM486 390h2v2h-2zM492 390h2v2h-2zM470 392h2v2h-2zM474 392h2v2h-2zM476 392h2v2h-2zM490 392h2v2h-2zM492 392h2v2h-2zM456 394h2v2h-2zM466 394h2v2h-2zM468 394h2v2h-2zM476 394h2v2h-2zM478 394h2v2h-2zM480 394h2v2h-2zM486 394h2v2h-2zM488 394h2v2h-2zM456 396h2v2h-2zM460 396h2v2h-2zM464 396h2v2h-2zM466 396h2v2h-2zM482 396h2v2h-2zM486 396h2v2h-2zM490 396h2v2h-2zM492 396h2v2h-2zM452 398h2v2h-2zM458 398h2v2h-2zM470 398h2v2h-2zM478 398h2v2h-2zM464 400h2v2h-2zM484 400h2v2h-2zM452 402h2v2h-2zM464 402h2v2h-2zM466 402h2v2h-2zM468 404h2v2h-2zM470 404h2v2h-2zM464 406h2v2h-2zM472 406h2v2h-2zM466 408h2v2h-2zM464 410h2v2h-2zM472 410h2v2h-2zM468 412h2v2h-2zM454 414h2v2h-2zM456 414h2v2h-2zM462 414h2v2h-2zM448 416h2v2h-2zM454 416h2v2h-2zM470 416h2v2h-2zM460 418h2v2h-2zM464 418h2v2h-2zM468 418h2v2h-2zM470 418h2v2h-2zM474 418h2v2h-2zM480 418h2v2h-2zM454 420h2v2h-2zM460 420h2v2h-2zM464 420h2v2h-2zM468 420h2v2h-2zM460 422h2v2h-2zM462 422h2v2h-2zM434 424h2v2h-2zM438 424h2v2h-2zM450 424h2v2h-2zM452 424h2v2h-2zM458 424h2v2h-2zM470 424h2v2h-2zM472 424h2v2h-2zM474 424h2v2h-2zM452 428h2v2h-2zM470 428h2v2h-2zM472 428h2v2h-2zM476 428h2v2h-2zM478 428h2v2h-2zM418 430h2v2h-2zM446 430h2v2h-2zM454 430h2v2h-2zM456 430h2v2h-2zM470 430h2v2h-2zM428 432h2v2h-2zM432 432h2v2h-2zM454 432h2v2h-2zM462 432h2v2h-2zM468 432h2v2h-2zM428 434h2v2h-2zM430 434h2v2h-2zM452 434h2v2h-2zM462 434h2v2h-2zM422 436h2v2h-2zM424 436h2v2h-2zM434 436h2v2h-2zM444 436h2v2h-2zM446 436h2v2h-2zM454 436h2v2h-2zM420 438h2v2h-2zM430 438h2v2h-2zM442 438h2v2h-2zM444 438h2v2h-2zM426 440h2v2h-2zM430 440h2v2h-2zM432 440h2v2h-2zM434 440h2v2h-2zM438 440h2v2h-2zM442 440h2v2h-2zM452 440h2v2h-2zM454 440h2v2h-2zM458 440h2v2h-2zM418 442h2v2h-2zM422 442h2v2h-2zM432 442h2v2h-2zM460 442h2v2h-2zM420 444h2v2h-2zM442 444h2v2h-2zM444 444h2v2h-2zM428 448h2v2h-2zM438 448h2v2h-2zM442 448h2v2h-2zM448 448h2v2h-2zM422 450h2v2h-2zM442 450h2v2h-2zM444 450h2v2h-2zM452 450h2v2h-2zM422 452h2v2h-2zM424 452h2v2h-2zM440 452h2v2h-2zM444 452h2v2h-2zM452 452h2v2h-2zM454 452h2v2h-2zM440 454h2v2h-2zM446 454h2v2h-2zM454 454h2v2h-2zM456 454h2v2h-2zM440 456h2v2h-2zM438 460h2v2h-2zM440 460h2v2h-2zM446 460h2v2h-2zM478 460h2v2h-2zM440 464h2v2h-2zM442 474h2v2h-2zM448 474h2v2h-2z"/>
<path fill="#98d080" d="M474 390h2v2h-2zM472 392h2v2h-2zM478 392h2v2h-2zM484 392h2v2h-2zM474 394h2v2h-2zM466 400h2v2h-2zM458 418h2v2h-2zM466 420h2v2h-2zM458 422h2v2h-2zM472 422h2v2h-2zM454 424h2v2h-2zM454 426h2v2h-2zM470 426h2v2h-2zM472 426h2v2h-2zM468 428h2v2h-2zM452 430h2v2h-2zM458 430h2v2h-2zM466 430h2v2h-2zM450 432h2v2h-2zM460 432h2v2h-2zM454 434h2v2h-2zM452 436h2v2h-2zM450 438h2v2h-2zM446 440h2v2h-2zM438 442h2v2h-2zM454 442h2v2h-2zM440 446h2v2h-2zM442 446h2v2h-2zM446 448h2v2h-2zM454 448h2v2h-2zM454 450h2v2h-2zM446 452h2v2h-2zM448 452h2v2h-2zM444 454h2v2h-2zM444 456h2v2h-2z"/>
<path fill="#e8e048" d="M470 420h2v2h-2zM470 422h2v2h-2zM466 424h2v2h-2zM468 424h2v2h-2zM448 438h2v2h-2zM440 440h2v2h-2zM448 440h2v2h-2zM446 444h2v2h-2z"/>
<path fill="#b04028" d="M466 422h2v2h-2zM456 424h2v2h-2zM464 424h2v2h-2zM462 428h2v2h-2zM460 430h2v2h-2zM462 430h2v2h-2z"/>
<path fill="#d07a38" d="M464 422h2v2h-2zM462 424h2v2h-2zM458 426h2v2h-2zM466 426h2v2h-2zM458 428h2v2h-2zM460 428h2v2h-2zM464 428h2v2h-2zM466 428h2v2h-2z"/>
<rect x="120" y="39.4" width="509.5" height="509.1" fill="none" stroke="#0a0a0a" stroke-width="1.5"/><line x1="112.5" y1="547.5" x2="120" y2="547.5" stroke="#111" stroke-width="2"/><line x1="116" y1="521.5" x2="120" y2="521.5" stroke="#111" stroke-width="1.3"/><line x1="116" y1="495.5" x2="120" y2="495.5" stroke="#111" stroke-width="1.3"/><line x1="116" y1="469.5" x2="120" y2="469.5" stroke="#111" stroke-width="1.3"/><line x1="116" y1="443.5" x2="120" y2="443.5" stroke="#111" stroke-width="1.3"/><line x1="112.5" y1="417.5" x2="120" y2="417.5" stroke="#111" stroke-width="2"/><line x1="116" y1="391.5" x2="120" y2="391.5" stroke="#111" stroke-width="1.3"/><line x1="116" y1="365.5" x2="120" y2="365.5" stroke="#111" stroke-width="1.3"/><line x1="116" y1="339.5" x2="120" y2="339.5" stroke="#111" stroke-width="1.3"/><line x1="116" y1="313.5" x2="120" y2="313.5" stroke="#111" stroke-width="1.3"/><line x1="112.5" y1="287.5" x2="120" y2="287.5" stroke="#111" stroke-width="2"/><line x1="116" y1="261.5" x2="120" y2="261.5" stroke="#111" stroke-width="1.3"/><line x1="116" y1="235.5" x2="120" y2="235.5" stroke="#111" stroke-width="1.3"/><line x1="116" y1="209.5" x2="120" y2="209.5" stroke="#111" stroke-width="1.3"/><line x1="116" y1="183.5" x2="120" y2="183.5" stroke="#111" stroke-width="1.3"/><line x1="112.5" y1="157.5" x2="120" y2="157.5" stroke="#111" stroke-width="2"/><line x1="116" y1="131.5" x2="120" y2="131.5" stroke="#111" stroke-width="1.3"/><line x1="116" y1="105.5" x2="120" y2="105.5" stroke="#111" stroke-width="1.3"/><line x1="116" y1="79.5" x2="120" y2="79.5" stroke="#111" stroke-width="1.3"/><line x1="116" y1="53.5" x2="120" y2="53.5" stroke="#111" stroke-width="1.3"/><line x1="120.2" y1="548" x2="120.2" y2="555" stroke="#111" stroke-width="1.8"/><line x1="150.7" y1="548" x2="150.7" y2="552" stroke="#111" stroke-width="1.3"/><line x1="168.5" y1="548" x2="168.5" y2="552" stroke="#111" stroke-width="1.3"/><line x1="181.1" y1="548" x2="181.1" y2="552" stroke="#111" stroke-width="1.3"/><line x1="190.9" y1="548" x2="190.9" y2="552" stroke="#111" stroke-width="1.3"/><line x1="198.9" y1="548" x2="198.9" y2="552" stroke="#111" stroke-width="1.3"/><line x1="205.7" y1="548" x2="205.7" y2="552" stroke="#111" stroke-width="1.3"/><line x1="211.6" y1="548" x2="211.6" y2="552" stroke="#111" stroke-width="1.3"/><line x1="216.8" y1="548" x2="216.8" y2="552" stroke="#111" stroke-width="1.3"/><line x1="221.4" y1="548" x2="221.4" y2="555" stroke="#111" stroke-width="1.8"/><line x1="251.9" y1="548" x2="251.9" y2="552" stroke="#111" stroke-width="1.3"/><line x1="269.7" y1="548" x2="269.7" y2="552" stroke="#111" stroke-width="1.3"/><line x1="282.3" y1="548" x2="282.3" y2="552" stroke="#111" stroke-width="1.3"/><line x1="292.1" y1="548" x2="292.1" y2="552" stroke="#111" stroke-width="1.3"/><line x1="300.1" y1="548" x2="300.1" y2="552" stroke="#111" stroke-width="1.3"/><line x1="306.9" y1="548" x2="306.9" y2="552" stroke="#111" stroke-width="1.3"/><line x1="312.8" y1="548" x2="312.8" y2="552" stroke="#111" stroke-width="1.3"/><line x1="318.0" y1="548" x2="318.0" y2="552" stroke="#111" stroke-width="1.3"/><line x1="322.6" y1="548" x2="322.6" y2="555" stroke="#111" stroke-width="1.8"/><line x1="353.1" y1="548" x2="353.1" y2="552" stroke="#111" stroke-width="1.3"/><line x1="370.9" y1="548" x2="370.9" y2="552" stroke="#111" stroke-width="1.3"/><line x1="383.5" y1="548" x2="383.5" y2="552" stroke="#111" stroke-width="1.3"/><line x1="393.3" y1="548" x2="393.3" y2="552" stroke="#111" stroke-width="1.3"/><line x1="401.3" y1="548" x2="401.3" y2="552" stroke="#111" stroke-width="1.3"/><line x1="408.1" y1="548" x2="408.1" y2="552" stroke="#111" stroke-width="1.3"/><line x1="414.0" y1="548" x2="414.0" y2="552" stroke="#111" stroke-width="1.3"/><line x1="419.2" y1="548" x2="419.2" y2="552" stroke="#111" stroke-width="1.3"/><line x1="423.8" y1="548" x2="423.8" y2="555" stroke="#111" stroke-width="1.8"/><line x1="454.3" y1="548" x2="454.3" y2="552" stroke="#111" stroke-width="1.3"/><line x1="472.1" y1="548" x2="472.1" y2="552" stroke="#111" stroke-width="1.3"/><line x1="484.7" y1="548" x2="484.7" y2="552" stroke="#111" stroke-width="1.3"/><line x1="494.5" y1="548" x2="494.5" y2="552" stroke="#111" stroke-width="1.3"/><line x1="502.5" y1="548" x2="502.5" y2="552" stroke="#111" stroke-width="1.3"/><line x1="509.3" y1="548" x2="509.3" y2="552" stroke="#111" stroke-width="1.3"/><line x1="515.2" y1="548" x2="515.2" y2="552" stroke="#111" stroke-width="1.3"/><line x1="520.4" y1="548" x2="520.4" y2="552" stroke="#111" stroke-width="1.3"/><line x1="525.0" y1="548" x2="525.0" y2="555" stroke="#111" stroke-width="1.8"/><line x1="555.5" y1="548" x2="555.5" y2="552" stroke="#111" stroke-width="1.3"/><line x1="573.3" y1="548" x2="573.3" y2="552" stroke="#111" stroke-width="1.3"/><line x1="585.9" y1="548" x2="585.9" y2="552" stroke="#111" stroke-width="1.3"/><line x1="595.7" y1="548" x2="595.7" y2="552" stroke="#111" stroke-width="1.3"/><line x1="603.7" y1="548" x2="603.7" y2="552" stroke="#111" stroke-width="1.3"/><line x1="610.5" y1="548" x2="610.5" y2="552" stroke="#111" stroke-width="1.3"/><line x1="616.4" y1="548" x2="616.4" y2="552" stroke="#111" stroke-width="1.3"/><line x1="621.6" y1="548" x2="621.6" y2="552" stroke="#111" stroke-width="1.3"/><line x1="626.2" y1="548" x2="626.2" y2="555" stroke="#111" stroke-width="1.8"/><text transform="translate(107.3,164) scale(1.13,1)" text-anchor="end" class="t">150K</text><text transform="translate(107.3,294.5) scale(1.13,1)" text-anchor="end" class="t">100K</text><text transform="translate(107.3,423.7) scale(1.13,1)" text-anchor="end" class="t">50K</text><text transform="translate(107.3,547.6) scale(1.13,1)" text-anchor="end" class="t">0</text><text transform="translate(123.8,577) scale(1.14,1)" class="t">10</text><text transform="translate(142.0,567.3) scale(1.14,1)" class="t">1</text><text transform="translate(216.5,577) scale(1.14,1)" class="t">10</text><text transform="translate(234.7,567.3) scale(1.14,1)" class="t">2</text><text transform="translate(318.0,577) scale(1.14,1)" class="t">10</text><text transform="translate(336.2,567.3) scale(1.14,1)" class="t">3</text><text transform="translate(418.40000000000003,577) scale(1.14,1)" class="t">10</text><text transform="translate(436.6,567.3) scale(1.14,1)" class="t">4</text><text transform="translate(520.0,577) scale(1.14,1)" class="t">10</text><text transform="translate(538.2,567.3) scale(1.14,1)" class="t">5</text><text transform="translate(601.6999999999999,577) scale(1.14,1)" class="t">10</text><text transform="translate(619.9,567.3) scale(1.14,1)" class="t">6</text><text transform="translate(284.5,617.8) scale(1.042,1)" x="-0.19 19.03 41.14 57.89 75.22" class="b">CD326</text><text transform="translate(443.3,617.8) scale(0.92,1)" x="0" class="b">C</text><path fill="#111" d="M394.9 595.5h15.4v4.3h-9.4v5.6h8.1v4.3h-8.1v8h-6z M412.8 595.5h10.4v3.8h-2.4v14.6h2.4v3.8h-10.4v-3.8h2.4v-14.6h-2.4z M424.5 595.5h18.4v4.3h-6.1v17.9h-6.2v-17.9h-6.1z"/><text transform="translate(39,385) rotate(-90) scale(1.027,1)" x="0.68 21.01 28.50 46.95 64.39 71.69 91.25 107.24 123.71 136.29 147.42 165.35" y="0" class="b">Side Scatter</text>
</svg></body></html>
